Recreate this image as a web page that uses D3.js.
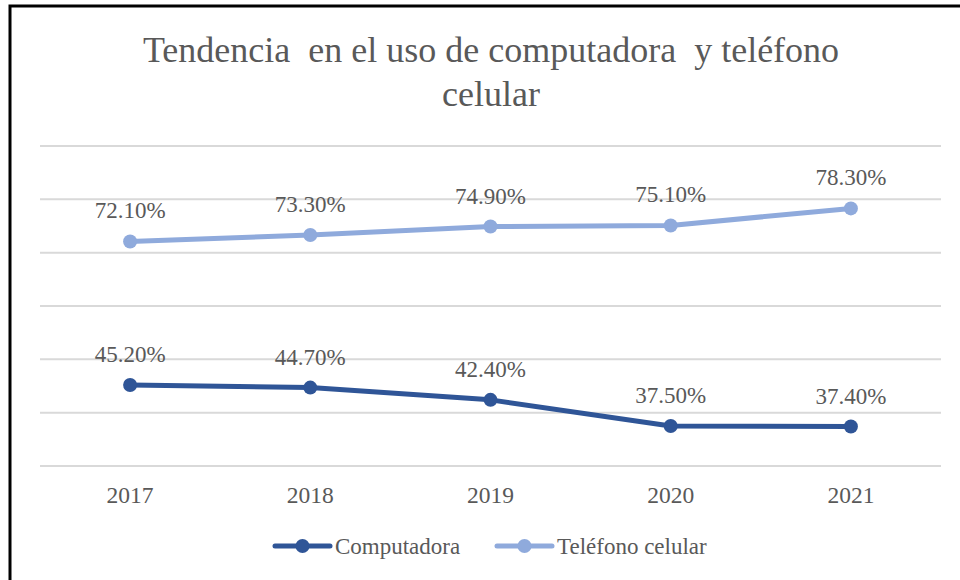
<!DOCTYPE html>
<html>
<head>
<meta charset="utf-8">
<script src="https://cdn.jsdelivr.net/npm/d3@7"></script>
<style>
  body { margin: 0; background: #fff; }
</style>
</head>
<body>
<div id="chart"></div>
<script>
let years = ["2017", "2018", "2019", "2020", "2021"];
let computadora = [45.2, 44.7, 42.4, 37.5, 37.4];
let telefono = [72.1, 73.3, 74.9, 75.1, 78.3];
let seriesNames = ["Computadora", "Teléfono celular"];
let yTicks = [30, 40, 50, 60, 70, 80, 90];

let width = 960, height = 580;
let margin = {top: 146, right: 19, bottom: 114, left: 40};
let serif = "'Liberation Serif', 'Times New Roman', serif";
let grey = "#595959";

let svg = d3.select("#chart")
    .append("svg")
    .attr("width", width)
    .attr("height", height)
    .style("font-family", serif);

// marco
svg.append("rect")
    .attr("x", 10).attr("y", 6)
    .attr("width", 960).attr("height", 600)
    .attr("fill", "#fff")
    .attr("stroke", "#000")
    .attr("stroke-width", 3);

let x = d3.scaleBand()
    .domain(years)
    .range([margin.left, width - margin.right]);

let y = d3.scaleLinear()
    .domain([30, 90])
    .range([height - margin.bottom, margin.top]);

// titulo
let title = svg.append("text")
    .attr("text-anchor", "middle")
    .attr("font-size", 36)
    .attr("fill", grey)
    .style("font-family", serif)
    .style("white-space", "pre");
title.append("tspan").attr("x", 491).attr("y", 62).text("Tendencia  en el uso de computadora  y teléfono");
title.append("tspan").attr("x", 491).attr("y", 106).text("celular");

// grid
svg.selectAll(".grid")
    .data(yTicks)
    .enter()
    .append("line")
    .attr("class", "grid")
    .attr("x1", margin.left)
    .attr("x2", width - margin.right)
    .attr("y1", d => y(d))
    .attr("y2", d => y(d))
    .attr("stroke", "#d9d9d9")
    .attr("stroke-width", 2);

// eje x
let xAxis = svg.append("g")
    .attr("transform", "translate(0," + (height - margin.bottom) + ")")
    .call(d3.axisBottom(x).tickSize(0).tickPadding(20));
xAxis.select(".domain").remove();
xAxis.selectAll("text")
    .attr("font-size", 23.5)
    .attr("fill", grey)
    .style("font-family", serif);

let series = [
    {name: seriesNames[0], values: computadora, color: "#2f5597"},
    {name: seriesNames[1], values: telefono, color: "#8faadc"}
];

let line = d3.line()
    .x((d, i) => x(years[i]) + x.bandwidth() / 2)
    .y(d => y(d));

series.forEach(function (s) {
    svg.append("path")
        .datum(s.values)
        .attr("d", line)
        .attr("fill", "none")
        .attr("stroke", s.color)
        .attr("stroke-width", 5)
        .attr("stroke-linejoin", "round");

    svg.selectAll(null)
        .data(s.values)
        .enter()
        .append("circle")
        .attr("cx", (d, i) => x(years[i]) + x.bandwidth() / 2)
        .attr("cy", d => y(d))
        .attr("r", 7)
        .attr("fill", s.color);

    svg.selectAll(null)
        .data(s.values)
        .enter()
        .append("text")
        .attr("x", (d, i) => x(years[i]) + x.bandwidth() / 2)
        .attr("y", d => y(d) - 23)
        .attr("text-anchor", "middle")
        .attr("font-size", 23)
        .attr("fill", grey)
        .style("font-family", serif)
        .text(d => d.toFixed(2) + "%");
});

// leyenda
let legendX = [275, 497];
let legend = svg.selectAll(".legend")
    .data(series)
    .enter()
    .append("g")
    .attr("class", "legend")
    .attr("transform", (d, i) => "translate(" + legendX[i] + ",546)");
legend.append("line")
    .attr("x1", 0).attr("x2", 55)
    .attr("stroke", d => d.color)
    .attr("stroke-width", 5)
    .attr("stroke-linecap", "round");
legend.append("circle")
    .attr("cx", 27.5)
    .attr("r", 7)
    .attr("fill", d => d.color);
legend.append("text")
    .attr("x", 60)
    .attr("y", 7.5)
    .attr("font-size", 23)
    .attr("fill", grey)
    .style("font-family", serif)
    .text(d => d.name);
</script>
</body>
</html>
